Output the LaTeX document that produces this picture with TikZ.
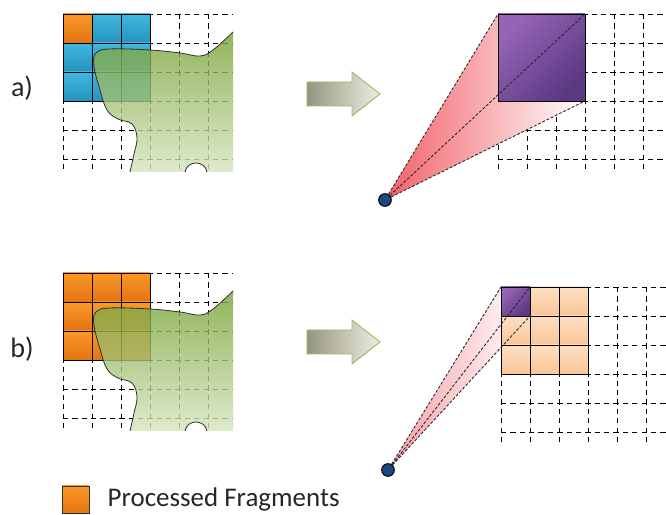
\documentclass[tikz,border=0pt]{standalone}
\usepackage{fontspec}
\setmainfont{Carlito}
\usetikzlibrary{positioning}
\usepackage{xcolor}

\definecolor{blueT}{RGB}{64,184,224}
\definecolor{blueB}{RGB}{36,146,190}
\definecolor{orangeT}{RGB}{250,152,40}
\definecolor{orangeB}{RGB}{226,116,18}
\definecolor{peachT}{RGB}{253,224,194}
\definecolor{peachB}{RGB}{249,196,150}
\definecolor{purpleT}{RGB}{150,100,182}
\definecolor{purpleB}{RGB}{90,56,130}
\definecolor{blobT}{RGB}{118,162,52}
\definecolor{blobB}{RGB}{214,228,190}
\definecolor{fanred}{RGB}{242,96,106}
\definecolor{eyeblue}{RGB}{30,70,130}
\definecolor{arrowL}{RGB}{150,150,126}
\definecolor{arrowR}{RGB}{238,238,226}
\definecolor{arrowedge}{RGB}{150,190,100}

\tikzset{
  gridline/.style={dash pattern=on 4.5pt off 3.5pt,line width=0.7pt},
  blockline/.style={line width=0.8pt},
  rayline/.style={dash pattern=on 2.5pt off 1.5pt,line width=0.75pt,black!85},
  bluecell/.style={top color=blueT,bottom color=blueB},
  orangecell/.style={top color=orangeT,bottom color=orangeB},
  peachcell/.style={top color=peachT,bottom color=peachB},
  purplecell/.style={top color=purpleT,bottom color=purpleB,shading angle=45},
  blob/.style={top color=blobT,bottom color=blobB,opacity=0.8},
  blobline/.style={line width=0.7pt,black!80},
  fan/.style={left color=fanred,right color=white},
  fanpale/.style={left color=fanred!60,right color=white},
  viewer/.style={circle,draw,line width=0.8pt,fill=eyeblue,inner sep=0pt,minimum size=0.38cm},
  bigarrow/.style={left color=arrowL,right color=arrowR,draw=arrowedge,line width=0.8pt},
  panellabel/.style={font=\fontsize{24}{28}\selectfont,text=black!85},
}

% upper edge of the green object, in panel coordinates
\newcommand{\blobedge}{plot[smooth,tension=0.65] coordinates {(170,18) (150,36) (137,42) (117,39) (87,36) (47,35) (33,39) (31,52) (37,76) (44,96) (55,105) (69,110) (74,124) (71,140) (67,158)}}

% left side of a row: screen grid, processed block and the object
\newcommand{\fragpanel}[2]{%
\begin{scope}[shift={#1}]
\foreach \k in {0,29,...,145} {
  \draw[gridline] (\k,0) -- (\k,158);
  \draw[gridline] (0,\k) -- (170,\k);
}
\foreach \r in {0,1,2} \foreach \c in {0,1,2}
  \shade[#2] (29*\c,29*\r) rectangle ++(29,29);
\shade[orangecell] (0,0) rectangle (29,29);
\foreach \k in {0,29,58,87} {
  \draw[blockline] (\k,0) -- (\k,87);
  \draw[blockline] (0,\k) -- (87,\k);
}
\shade[blob] \blobedge -- (122,158) .. controls (124,146) and (142,146) .. (144,158) -- (170,158) -- cycle;
\draw[blobline] \blobedge;
\draw[blobline] (122,158) .. controls (124,146) and (142,146) .. (144,158);
\end{scope}}

\begin{document}
\begin{tikzpicture}[x=0.03cm,y=-0.03cm]
\useasboundingbox (0,0) rectangle (666,515);

% a)
\node[panellabel] (labA) at (22,88) {a)};
\fragpanel{(63,14)}{bluecell}
\shadedraw[bigarrow] (307,82) -- (352,82) -- (352,72) -- (380,94) -- (352,116) -- (352,106) -- (307,106) -- cycle;
\begin{scope}[shift={(498,14)}]
\foreach \k in {0,29,...,145} {
  \draw[gridline] (\k,0) -- (\k,158);
  \draw[gridline] (0,\k) -- (168,\k);
}
\coordinate (eyeApos) at (-113,186);
\coordinate (tlA) at (0,0);
\coordinate (trA) at (87,0);
\coordinate (brA) at (87,87);
\shade[fan] (eyeApos) -- (tlA) -- (trA) -- (brA) -- cycle;
\shade[purplecell] (tlA) rectangle (brA);
\draw[blockline] (tlA) rectangle (brA);
\node[viewer] (eyeA) at (eyeApos) {};
\draw[rayline] (eyeA) -- (tlA);
\draw[rayline] (eyeA) -- (trA);
\draw[rayline] (eyeA) -- (brA);
\end{scope}

% b)
\node[panellabel] (labB) at (22,349) {b)};
\fragpanel{(63,273)}{orangecell}
\shadedraw[bigarrow] (307,330) -- (352,330) -- (352,320) -- (380,342) -- (352,364) -- (352,354) -- (307,354) -- cycle;
\begin{scope}[shift={(501,287)}]
\foreach \k in {0,29,...,145} {
  \draw[gridline] (\k,0) -- (\k,158);
  \draw[gridline] (0,\k) -- (165,\k);
}
\coordinate (eyeBpos) at (-113,183);
\coordinate (tlB) at (0,0);
\coordinate (trB) at (29,0);
\coordinate (brB) at (29,29);
\shade[fanpale] (eyeBpos) -- (tlB) -- (trB) -- (brB) -- cycle;
\foreach \r in {0,1,2} \foreach \c in {0,1,2}
  \shade[peachcell] (29*\c,29*\r) rectangle ++(29,29);
\shade[purplecell] (tlB) rectangle (brB);
\foreach \k in {0,29,58,87} {
  \draw[blockline] (\k,0) -- (\k,87);
  \draw[blockline] (0,\k) -- (87,\k);
}
\node[viewer] (eyeB) at (eyeBpos) {};
\draw[rayline] (eyeB) -- (tlB);
\draw[rayline] (eyeB) -- (trB);
\draw[rayline] (eyeB) -- (brB);
\end{scope}

% legend
\node[orangecell,draw=black!80,line width=0.8pt,minimum size=0.81cm,inner sep=0pt] (legKey) at (75.5,499.5) {};
\node[right=0.54cm of legKey,inner sep=0pt,font=\fontsize{23}{28}\selectfont,text=black!85] (legText) {Processed Fragments};
\end{tikzpicture}
\end{document}
